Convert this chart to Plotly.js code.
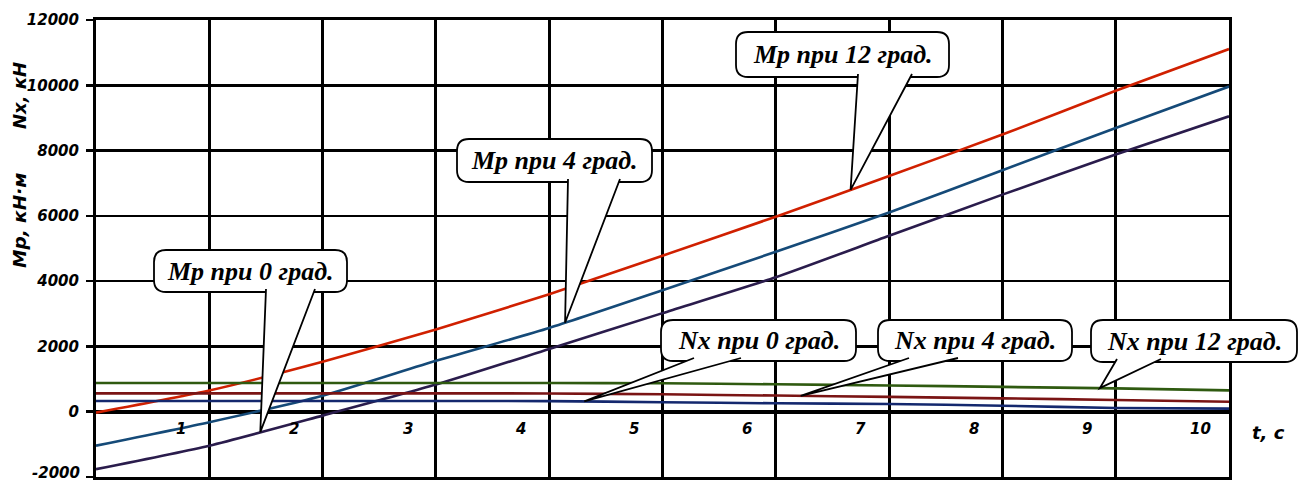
<!DOCTYPE html>
<html>
<head>
<meta charset="utf-8">
<script src="https://cdn.plot.ly/plotly-3.0.1.min.js"></script>
<style>
  html, body { margin: 0; padding: 0; background: #ffffff; }
  #chart { width: 1300px; height: 484px; }
</style>
</head>
<body>
<div id="chart"></div>
<script>
// ---- data ----
const tValues = [0, 1, 2, 3, 4, 5, 6, 7, 8, 9, 10];
const mp0  = [-1760, -1040, -120, 830, 1920, 3020, 4120, 5390, 6650, 7880, 9050];
const mp4  = [-1040, -320, 490, 1560, 2565, 3720, 4900, 6100, 7400, 8690, 9960];
const mp12 = [-30, 650, 1530, 2520, 3600, 4780, 5975, 7220, 8490, 9830, 11110];
const nx0  = [330, 330, 330, 330, 325, 290, 258, 235, 185, 115, 95];
const nx4  = [563, 563, 563, 563, 560, 533, 495, 455, 410, 358, 306];
const nx12 = [880, 880, 880, 880, 880, 870, 840, 805, 760, 715, 655];
const xTickLabels = ['1', '2', '3', '4', '5', '6', '7', '8', '9', '10'];
const yTickValues = [-2000, 0, 2000, 4000, 6000, 8000, 10000, 12000];

const seriesNames = ['Mp при 0 град.', 'Mp при 4 град.', 'Mp при 12 град.',
                     'Nx при 0 град.', 'Nx при 4 град.', 'Nx при 12 град.'];
const seriesData = [mp0, mp4, mp12, nx0, nx4, nx12];
const seriesColors = ['#2a1c4c', '#154a78', '#d02000', '#14286e', '#7a1414', '#2f5a10'];

// ---- layout geometry ----
const W = 1300, H = 484;
const M = { l: 96, r: 71, t: 20, b: 7 };
const PW = W - M.l - M.r, PH = H - M.t - M.b;
const xRange = [0, 10], yRange = [-2000, 12000];

const px2paperX = px => (px - M.l) / PW;
const py2paperY = py => (H - M.b - py) / PH;
const t2paper = t => (t - xRange[0]) / (xRange[1] - xRange[0]);
const v2paper = v => (v - yRange[0]) / (yRange[1] - yRange[0]);
function interp(arr, t) {
  const i = Math.max(0, Math.min(arr.length - 2, Math.floor(t)));
  const f = t - tValues[i];
  return arr[i] + (arr[i + 1] - arr[i]) * f;
}

// callouts: box in page pixels, wedge base x in pixels, tip on series at t
const callouts = [
  { s: 0, tAt: 1.45, box: [154, 250, 347, 292], base: [266, 315] },
  { s: 1, tAt: 4.14, box: [457, 139, 652, 182], base: [568, 620] },
  { s: 2, tAt: 6.66, box: [736, 32, 949, 77], base: [858, 912] },
  { s: 3, tAt: 4.31, box: [661, 320, 856, 361], base: [694, 741] },
  { s: 4, tAt: 6.22, box: [878, 320, 1072, 361], base: [909, 958] },
  { s: 5, tAt: 8.86, box: [1091, 320, 1297, 362], base: [1117, 1161] }
];

const traces = seriesData.map((arr, k) => ({
  x: tValues, y: arr, type: 'scatter', mode: 'lines', name: seriesNames[k],
  line: { color: seriesColors[k], width: 2.6, shape: 'spline', smoothing: 0.6 },
  hoverinfo: 'skip'
}));

const shapes = [];
const annotations = [];
const calloutFont = { family: 'Liberation Serif', size: 26, color: '#000', weight: 'bold', style: 'italic' };
callouts.forEach(c => {
  const l = px2paperX(c.box[0]), r = px2paperX(c.box[2]);
  const tp = py2paperY(c.box[1]), bt = py2paperY(c.box[3]);
  const rx = 12 / PW, ry = 12 / PH;
  shapes.push({
    type: 'path', xref: 'paper', yref: 'paper', layer: 'above',
    path: `M ${l + rx},${tp} L ${r - rx},${tp} Q ${r},${tp} ${r},${tp - ry} L ${r},${bt + ry} Q ${r},${bt} ${r - rx},${bt} L ${l + rx},${bt} Q ${l},${bt} ${l},${bt + ry} L ${l},${tp - ry} Q ${l},${tp} ${l + rx},${tp} Z`,
    fillcolor: '#ffffff', line: { color: '#000000', width: 1.8 }
  });
  const tipX = t2paper(c.tAt), tipY = v2paper(interp(seriesData[c.s], c.tAt));
  const bIn = bt + 3 / PH;
  shapes.push({
    type: 'path', xref: 'paper', yref: 'paper', layer: 'above',
    path: `M ${px2paperX(c.base[0])},${bIn} L ${tipX},${tipY} L ${px2paperX(c.base[1])},${bIn}`,
    fillcolor: '#ffffff', line: { color: '#000000', width: 1.8 }
  });
  annotations.push({
    xref: 'paper', yref: 'paper', x: (l + r) / 2, y: (tp + bt) / 2,
    xanchor: 'center', yanchor: 'middle', showarrow: false,
    text: seriesNames[c.s], font: Object.assign({}, calloutFont)
  });
});

const axisFont = { family: 'DejaVu Sans', size: 15, color: '#000', weight: 'bold', style: 'italic' };
xTickLabels.forEach((lab, i) => {
  annotations.push({
    xref: 'x', yref: 'y', x: i + 1 - 0.25, y: -530,
    xanchor: 'center', yanchor: 'middle', showarrow: false,
    text: lab, font: Object.assign({}, axisFont)
  });
});
// lowest y tick label, lifted slightly so it stays inside the page
annotations.push({
  xref: 'paper', yref: 'y', x: px2paperX(82), y: yTickValues[0],
  xanchor: 'right', yanchor: 'bottom', yshift: -7, showarrow: false,
  text: String(yTickValues[0]), font: Object.assign({}, axisFont)
});
annotations.push({
  xref: 'paper', yref: 'paper', x: px2paperX(1268), y: py2paperY(432),
  xanchor: 'center', yanchor: 'middle', showarrow: false, text: 't, c',
  font: { family: 'DejaVu Sans', size: 18, color: '#000', weight: 'bold', style: 'italic' }
});
annotations.push({
  xref: 'paper', yref: 'paper', x: px2paperX(19), y: py2paperY(96),
  xanchor: 'center', yanchor: 'middle', showarrow: false, textangle: -90, text: 'Nx, кН',
  font: { family: 'DejaVu Sans', size: 18, color: '#000', weight: 'bold', style: 'italic' }
});
annotations.push({
  xref: 'paper', yref: 'paper', x: px2paperX(19), y: py2paperY(221),
  xanchor: 'center', yanchor: 'middle', showarrow: false, textangle: -90, text: 'Mp, кН·м',
  font: { family: 'DejaVu Sans', size: 18.5, color: '#000', weight: 'bold', style: 'italic' }
});

const layout = {
  width: W, height: H,
  margin: { l: M.l, r: M.r, t: M.t, b: M.b, pad: 0 },
  paper_bgcolor: '#ffffff', plot_bgcolor: '#ffffff',
  showlegend: false,
  xaxis: {
    range: xRange, tickmode: 'linear', tick0: 0, dtick: 1,
    showgrid: true, gridcolor: '#000000', gridwidth: 3,
    showticklabels: false, ticks: '',
    showline: true, linecolor: '#000000', linewidth: 3, mirror: true,
    zeroline: false, fixedrange: true
  },
  yaxis: {
    range: yRange, tickmode: 'array', tickvals: yTickValues,
    ticktext: yTickValues.map((v, i) => i === 0 ? '' : String(v)),
    showgrid: true, gridcolor: '#000000', gridwidth: 2.5,
    ticks: 'outside', ticklen: 7, tickwidth: 2.5, tickcolor: '#000000',
    tickfont: axisFont, ticklabelstandoff: 4, ticklabeloverflow: 'allow',
    showline: true, linecolor: '#000000', linewidth: 3, mirror: true,
    zeroline: true, zerolinecolor: '#000000', zerolinewidth: 4, fixedrange: true
  },
  shapes: shapes,
  annotations: annotations
};

Plotly.newPlot('chart', traces, layout, { displayModeBar: false, staticPlot: true });
</script>
</body>
</html>
